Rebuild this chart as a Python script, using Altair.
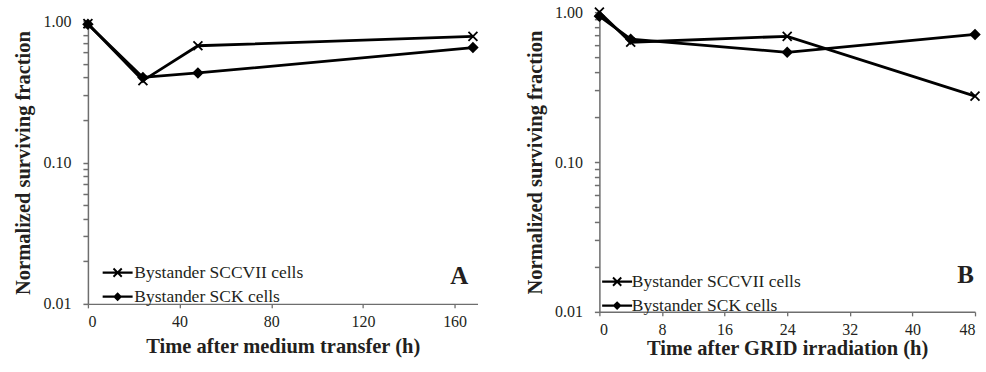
import altair as alt
import pandas as pd

SERIES = ["Bystander SCCVII cells", "Bystander SCK cells"]

A_TIME = [0, 24, 48, 168]
A_SCCVII = [0.96, 0.38, 0.67, 0.78]
A_SCK = [0.95, 0.40, 0.43, 0.65]

B_TIME = [0, 4, 24, 48]
B_SCCVII = [1.0, 0.63, 0.69, 0.275]
B_SCK = [0.94, 0.66, 0.54, 0.71]

A_XTICKS = [0, 40, 80, 120, 160]
B_XTICKS = [0, 8, 16, 24, 32, 40, 48]

A_LETTER = ("A", 162, 0.0158)
B_LETTER = ("B", 46.8, 0.0177)

FONT = "Liberation Serif"
INK = "#231f20"
GREY = "#6e6e6e"

X_PATH = "M-1,-1L1,1M-1,1L1,-1"
BAR = "M-2,-0.15H2V0.15H-2Z"
LEG_X = BAR + ("M-0.46,-0.64L0.64,0.46L0.46,0.64L-0.64,-0.46Z"
               "M-0.64,0.46L0.46,-0.64L0.64,-0.46L-0.46,0.64Z")
LEG_D = BAR + "M0,-0.6L0.6,0L0,0.6L-0.6,0Z"

DECADE_LABEL = ("abs(log(datum.value) / LN10 - round(log(datum.value) / LN10)) < 1e-6 "
                "? format(datum.value, '.2f') : ''")


def frame(times, s1, s2):
    rows = []
    for t, v in zip(times, s1):
        rows.append({"series": SERIES[0], "time": t, "value": v})
    for t, v in zip(times, s2):
        rows.append({"series": SERIES[1], "time": t, "value": v})
    return pd.DataFrame(rows)


def panel(df, xmax, xticks, xtitle, letter, w, h, legx, legy, laboff, xtp):
    x = alt.X("time:Q", scale=alt.Scale(domain=[0, xmax], nice=False, zero=False),
              axis=alt.Axis(values=xticks, title=xtitle, grid=False, ticks=True, tickSize=4,
                            tickColor=GREY, tickWidth=1.3,
                            labelPadding=6, titlePadding=xtp, labelFontSize=16,
                            labelFont=FONT, titleFont=FONT,
                            titleFontSize=20.5, titleFontWeight="bold"))
    y = alt.Y("value:Q", scale=alt.Scale(type="log", domain=[0.01, 1], nice=False),
              axis=alt.Axis(tickCount=10, grid=False, ticks=True, tickSize=5, labelPadding=12,
                            tickColor=GREY, tickWidth=1.5, tickOpacity=1,
                            labelOverlap=False, labelFont=FONT, titleFont=FONT,
                            labelExpr=DECADE_LABEL,
                            title="Normalized surviving fraction", titlePadding=9,
                            labelFontSize=16, titleFontSize=20.5, titleFontWeight="bold"))
    base = alt.Chart(df)
    lines = base.mark_line(color="black", strokeWidth=2.8).encode(x=x, y=y, detail="series:N")
    pts = base.mark_point(fill="black", stroke="black", strokeWidth=1.8, opacity=1, size=80).encode(
        x=x, y=y,
        shape=alt.Shape("series:N", scale=alt.Scale(domain=SERIES, range=[X_PATH, "diamond"]), legend=None))
    leg = base.transform_filter("false").mark_point(filled=True, color="black").encode(
        x=x, y=y,
        shape=alt.Shape("series:N", scale=alt.Scale(domain=SERIES, range=[LEG_X, LEG_D]),
                        legend=alt.Legend(title=None, orient="none", legendX=legx, legendY=legy,
                                          symbolSize=225, symbolOpacity=1, symbolFillColor="black",
                                          labelFont=FONT, labelFontSize=17.5, labelColor=INK,
                                          labelLimit=400,
                                          labelOffset=laboff, rowPadding=5, padding=0)))
    ldf = pd.DataFrame({"t": [letter[0]], "time": [letter[1]], "value": [letter[2]]})
    txt = alt.Chart(ldf).mark_text(font=FONT, fontSize=25, fontWeight="bold", color=INK,
                                   align="center", baseline="middle").encode(x=x, y=y, text="t:N")
    return alt.layer(lines, pts, leg, txt).resolve_scale(shape="independent").properties(width=w, height=h)


pa = panel(frame(A_TIME, A_SCCVII, A_SCK), 170, A_XTICKS, "Time after medium transfer (h)",
           A_LETTER, 390, 283, 21, 243, 8, 7)
pb = panel(frame(B_TIME, B_SCCVII, B_SCK), 48, B_XTICKS, "Time after GRID irradiation (h)",
           B_LETTER, 376, 300, 9, 261, 6, 1)

spacer = alt.Chart(pd.DataFrame({"t": [""]})).mark_text().encode(text="t:N").properties(width=390, height=1)
left = alt.vconcat(spacer, pa, spacing=-5)

chart = alt.hconcat(left, pb, spacing=44).configure(
    padding={"left": 13, "top": 3, "right": 2, "bottom": 2}
).configure_axis(
    labelFont=FONT, titleFont=FONT, labelColor=INK, titleColor=INK,
    domainColor=GREY, tickColor=GREY, domainWidth=1.5, tickWidth=1.5
).configure_view(stroke=None)

chart.save("out.html", embed_options={"renderer": "svg", "actions": False})
